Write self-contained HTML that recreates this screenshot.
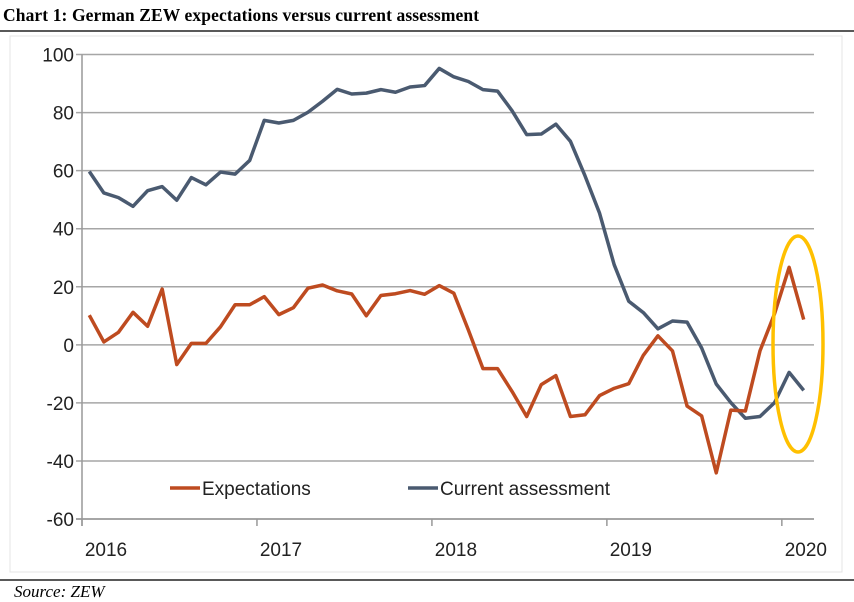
<!DOCTYPE html>
<html><head><meta charset="utf-8"><style>
body{margin:0;background:#fff;width:854px;height:600px;overflow:hidden;position:relative;font-family:"Liberation Sans",sans-serif}
#title{position:absolute;left:3px;top:5px;font:bold 17.5px "Liberation Serif",serif;color:#000;white-space:nowrap;letter-spacing:0.1px}
#source{position:absolute;left:14px;top:582px;font:italic 17px "Liberation Serif",serif;white-space:nowrap}
</style></head><body>
<div id="title">Chart 1: German ZEW expectations versus current assessment</div>
<svg id="chart" width="854" height="600" style="position:absolute;left:0;top:0">
<line x1="0" y1="31" x2="854" y2="31" stroke="#222" stroke-width="1.5"/>
<rect x="10" y="36" width="832" height="536" fill="none" stroke="#e4e4e4"/>
<line x1="0" y1="580" x2="854" y2="580" stroke="#222" stroke-width="1.5"/>
<g id="grid"></g><g id="axes"></g><g id="lines"></g>
<ellipse cx="798" cy="344" rx="25" ry="108" fill="none" stroke="#FFC000" stroke-width="3.5"/>
<g>
<line x1="170" y1="488" x2="200" y2="488" stroke="#BE4B20" stroke-width="3.5"/>
<text x="202" y="495" font-size="19" fill="#222">Expectations</text>
<line x1="408" y1="488" x2="438" y2="488" stroke="#4A5A70" stroke-width="3.5"/>
<text x="440" y="495" font-size="19" fill="#222">Current assessment</text>
</g>
</svg>
<div id="source">Source: ZEW</div>
<script>
const yTicks=[100,80,60,40,20,0,-20,-40,-60];
const years=["2016","2017","2018","2019","2020"];
const current=[59.7,52.3,50.7,47.7,53.1,54.5,49.8,57.6,55.1,59.5,58.8,63.5,
77.3,76.4,77.3,80.1,83.9,88.0,86.4,86.7,87.9,87.0,88.8,89.3,
95.2,92.3,90.7,87.9,87.4,80.6,72.4,72.6,76.0,70.1,58.2,45.3,
27.6,15.0,11.1,5.5,8.2,7.8,-1.1,-13.5,-19.9,-25.3,-24.7,-19.9,
-9.5,-15.7];
const expectations=[10.2,1.0,4.3,11.2,6.4,19.2,-6.8,0.5,0.5,6.2,13.8,13.8,
16.6,10.4,12.8,19.5,20.6,18.6,17.5,10.0,17.0,17.6,18.7,17.4,
20.4,17.8,5.1,-8.2,-8.2,-16.1,-24.7,-13.7,-10.6,-24.7,-24.1,-17.5,
-15.0,-13.4,-3.6,3.1,-2.1,-21.1,-24.5,-44.1,-22.5,-22.8,-2.1,10.7,
26.7,8.7];
const NS="http://www.w3.org/2000/svg";
const x0=82,month=14.58,yTop=54.5,yBot=519,vMax=100,vMin=-60,xRight=814;
const X=i=>x0+(i+0.5)*month;
const Y=v=>yTop+(vMax-v)/(vMax-vMin)*(yBot-yTop);
function mk(tag,attrs,parent){const e=document.createElementNS(NS,tag);for(const k in attrs)e.setAttribute(k,attrs[k]);parent.appendChild(e);return e;}
const grid=document.getElementById('grid'),axes=document.getElementById('axes'),lines=document.getElementById('lines');
yTicks.forEach(v=>{
 const l=mk('line',{x1:76,x2:xRight,y1:Y(v),y2:Y(v),stroke:v===-60?'#888':'#a6a6a6','stroke-width':1.5},grid);
 
 
 const t=mk('text',{x:74,y:Y(v)+7,'text-anchor':'end','font-size':19,fill:'#222'},axes);
 t.textContent=v;
 
 
});
const ya=mk('line',{x1:x0,x2:x0,y1:yTop,y2:yBot+7,stroke:'#999','stroke-width':1.5},axes);


years.forEach((yr,k)=>{
 const xt=x0+k*12*month;
 const tk=mk('line',{x1:xt,x2:xt,y1:yBot,y2:yBot+7,stroke:'#999','stroke-width':1.5},axes);
 
 
 const t=mk('text',{x:xt+24,y:556,'text-anchor':'middle','font-size':19,fill:'#222'},axes);
 t.textContent=yr;
 
 
});
function series(data,color,name){
 const p=mk('polyline',{points:data.map((v,i)=>X(i)+','+Y(v)).join(' '),fill:'none',stroke:color,'stroke-width':3.5,'stroke-linejoin':'round'},lines);
 
 
}
series(current,'#4A5A70','current-assessment-line');
series(expectations,'#BE4B20','expectations-line');
</script>
</body></html>
